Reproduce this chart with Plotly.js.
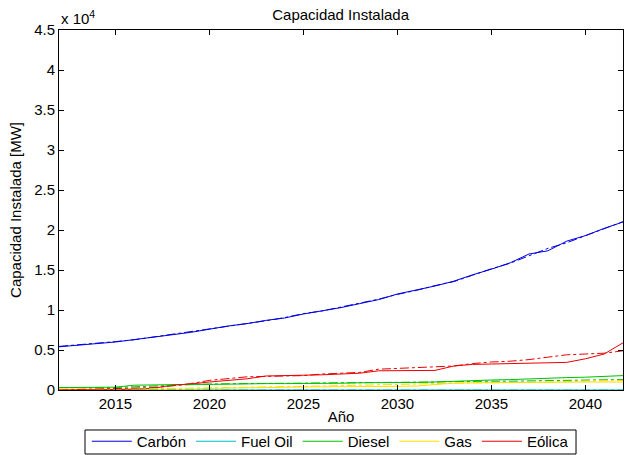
<!DOCTYPE html>
<html>
<head>
<meta charset="utf-8">
<script src="https://cdn.plot.ly/plotly-3.0.1.min.js"></script>
<style>html,body{margin:0;padding:0;background:#fff;}#chart{width:625px;height:455px;}</style>
</head>
<body>
<div id="chart"></div>
<script>
const years = [2012,2013,2014,2015,2016,2017,2018,2019,2020,2021,2022,2023,2024,2025,2026,2027,2028,2029,2030,2031,2032,2033,2034,2035,2036,2037,2038,2039,2040,2041,2042];

const seriesNames = ["Carbón","Fuel Oil","Diesel","Gas","Eólica"];
const seriesColors = ["#0000e0","#00c0c0","#00c000","#ffdd00","#ee0000"];

// Values in MW (solid = scenario A, dash-dot = scenario B)
const carbonA = [5400,5600,5800,6000,6300,6600,6900,7200,7600,8000,8300,8700,9000,9500,9900,10300,10800,11300,12000,12500,13000,13600,14400,15100,15900,17000,17400,18600,19300,20200,21000];
const carbonB = [5450,5620,5850,6050,6280,6620,6950,7250,7620,7980,8350,8650,9050,9550,9880,10350,10900,11350,11950,12450,13050,13550,14350,15150,15850,16800,17700,18400,19300,20150,21050];
const fueloilA = [0,0,0,0,0,0,0,0,0,0,0,0,0,0,0,0,0,0,0,0,0,0,0,0,0,0,0,0,0,0,0];
const fueloilB = [0,0,0,0,0,0,0,0,0,0,0,0,0,0,0,0,0,0,0,0,0,0,0,0,0,0,0,0,0,0,0];
const dieselA = [300,300,300,350,600,650,700,700,700,750,750,800,800,800,800,850,900,900,900,950,1000,1100,1200,1250,1300,1400,1500,1550,1600,1700,1800];
const dieselB = [300,300,300,320,400,500,600,700,750,780,800,800,800,800,820,830,850,880,900,950,1000,1050,1100,1100,1100,1150,1200,1220,1250,1280,1300];
const gasA = [100,100,100,100,100,100,100,100,200,250,300,320,350,380,400,400,400,420,450,500,700,850,900,900,900,920,950,980,1000,1000,1000];
const gasB = [100,100,100,120,150,180,200,250,300,350,380,400,420,450,500,550,600,650,700,750,800,900,900,900,900,950,1000,1050,1100,1150,1200];
const eolicaA = [0,0,0,50,100,200,600,750,1000,1200,1400,1750,1800,1800,1900,2000,2100,2400,2400,2400,2450,3000,3200,3250,3300,3300,3400,3450,3900,4500,5900];
const eolicaB = [0,50,100,150,200,300,500,800,1200,1450,1650,1700,1750,1800,2000,2100,2200,2600,2700,2800,2900,3000,3300,3500,3600,3800,4100,4400,4500,4600,4900];

const yTickVals = [0,5000,10000,15000,20000,25000,30000,35000,40000,45000];
const yTickText = ["0","0.5","1","1.5","2","2.5","3","3.5","4","4.5"];
const xTickVals = [2015,2020,2025,2030,2035,2040];

const solid = [carbonA, fueloilA, dieselA, gasA, eolicaA];
const dashed = [carbonB, fueloilB, dieselB, gasB, eolicaB];

const FONT = "Liberation Sans, Arial, sans-serif";
const traces = [];
for (let i = 0; i < seriesNames.length; i++) {
  traces.push({x: years, y: solid[i], type: "scatter", mode: "lines", name: seriesNames[i],
    line: {color: seriesColors[i], width: 1}, showlegend: true});
}
for (let i = 0; i < seriesNames.length; i++) {
  traces.push({x: years, y: dashed[i], type: "scatter", mode: "lines", name: seriesNames[i] + " (b)",
    line: {color: seriesColors[i], width: 1, dash: "dashdot"}, showlegend: false});
}

const layout = {
  width: 625, height: 455,
  margin: {l: 59, r: 2, t: 30, b: 65, autoexpand: false},
  paper_bgcolor: "#ffffff", plot_bgcolor: "#ffffff",
  font: {family: FONT, size: 15, color: "#000"},
  title: {text: "Capacidad Instalada", x: 0.545, xanchor: "center", y: 0.968, yanchor: "middle", font: {size: 15}},
  xaxis: {range: [2012, 2042], tickvals: xTickVals, ticks: "inside", ticklen: 5, tickcolor: "#000",
    showline: true, linecolor: "#000", linewidth: 1, mirror: "ticks", showgrid: false, zeroline: false,
    title: {text: "Año", standoff: 0, font: {size: 15}}, tickfont: {size: 15}},
  yaxis: {range: [0, 45000], tickvals: yTickVals, ticktext: yTickText, ticks: "inside", ticklen: 5, tickcolor: "#000",
    showline: true, linecolor: "#000", linewidth: 1, mirror: "ticks", showgrid: false, zeroline: false,
    title: {text: "Capacidad Instalada [MW]", standoff: 8, font: {size: 15}}, tickfont: {size: 15}},
  legend: {orientation: "h", x: 0.481, xanchor: "center", y: -0.0972, yanchor: "top", itemwidth: 40,
    bordercolor: "rgba(0,0,0,0)", borderwidth: 0, bgcolor: "rgba(0,0,0,0)", font: {size: 15}, tracegroupgap: 0},
  shapes: [{type: "rect", xref: "paper", yref: "paper", x0: 0.0461, x1: 0.9167, y0: -0.1778, y1: -0.1111,
    fillcolor: "#ffffff", line: {color: "#000", width: 1}, layer: "above"}],
  annotations: [{text: "x 10<sup>4</sup>", xref: "paper", yref: "paper", x: 0, y: 1, xanchor: "left", yanchor: "bottom",
    showarrow: false, font: {size: 15}, yshift: 1}]
};

Plotly.newPlot("chart", traces, layout, {displayModeBar: false, staticPlot: true});
</script>
</body>
</html>
